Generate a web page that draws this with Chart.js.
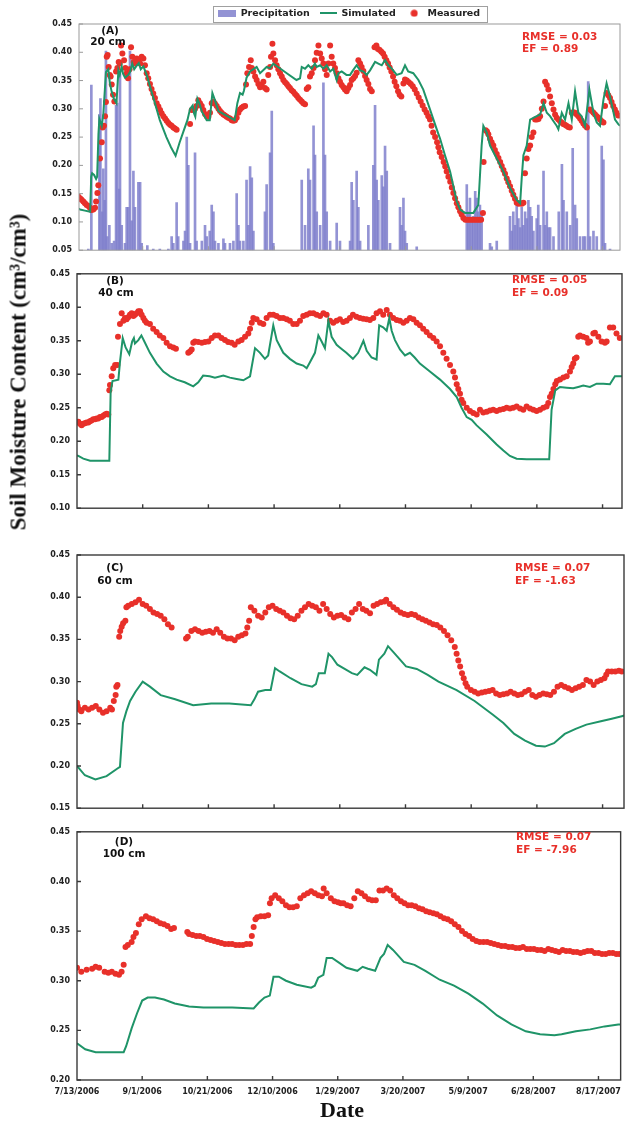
<!DOCTYPE html>
<html>
<head>
<meta charset="utf-8">
<script src="https://cdn.jsdelivr.net/npm/chart.js@4.4.1/dist/chart.umd.min.js"></script>
<style>
  html, body { margin: 0; padding: 0; background: #fff; }
  #wrap { position: relative; width: 628px; height: 1125px; overflow: hidden; background: #fff; }
  canvas { position: absolute; left: 0; }
  .t { position: absolute; font-family: "DejaVu Sans", sans-serif; font-weight: bold; white-space: nowrap; line-height: 1; }
  .lab { color: #111; font-size: 10.5px; transform: translate(-50%, -50%); }
  .fit { color: #e8302a; font-size: 10.5px; transform: translateY(-50%); }
  .serif { font-family: "Liberation Serif", "Times New Roman", serif; font-weight: bold; color: #111; }
</style>
</head>
<body>
<div id="wrap">
  <canvas id="cA" width="665" height="262" style="top:0px"></canvas>
  <canvas id="cB" width="628" height="258" style="top:262px"></canvas>
  <canvas id="cC" width="628" height="280" style="top:540px"></canvas>
  <canvas id="cD" width="628" height="305" style="top:820px"></canvas>

  <div class="t lab" style="left:110px;top:30px">(A)</div>
  <div class="t lab" style="left:108px;top:41px">20 cm</div>
  <div class="t fit" style="left:522px;top:36px">RMSE = 0.03</div>
  <div class="t fit" style="left:522px;top:48px">EF = 0.89</div>

  <div class="t lab" style="left:115px;top:280px">(B)</div>
  <div class="t lab" style="left:116px;top:292px">40 cm</div>
  <div class="t fit" style="left:512px;top:279px">RMSE = 0.05</div>
  <div class="t fit" style="left:512px;top:292px">EF = 0.09</div>

  <div class="t lab" style="left:115px;top:567px">(C)</div>
  <div class="t lab" style="left:115px;top:580px">60 cm</div>
  <div class="t fit" style="left:515px;top:567px">RMSE = 0.07</div>
  <div class="t fit" style="left:515px;top:580px">EF = -1.63</div>

  <div class="t lab" style="left:124px;top:841px">(D)</div>
  <div class="t lab" style="left:124px;top:853px">100 cm</div>
  <div class="t fit" style="left:516px;top:836px">RMSE = 0.07</div>
  <div class="t fit" style="left:516px;top:849px">EF = -7.96</div>

  <div class="t serif" style="font-size:23px;left:18px;top:372px;transform:translate(-50%,-50%) rotate(-90deg)">Soil Moisture Content (cm³/cm³)</div>
  <div class="t serif" style="font-size:22px;left:342px;top:1110px;transform:translate(-50%,-50%)">Date</div>
</div>

<script>
// Day counts are measured from 7/13/2006.
const tickDays = [0, 50, 100, 150, 200, 250, 300, 350, 400];
const tickLabels = ['7/13/2006', '9/1/2006', '10/21/2006', '12/10/2006', '1/29/2007', '3/20/2007', '5/9/2007', '6/28/2007', '8/17/2007'];

// Daily precipitation at the site, [day, mm]
const precip = [
  [8.6,0.5],[10.9,73],[17,60],[17.8,67],[19.3,17],[20,36],[21,22],[22,88],[23,6],[24.6,11],
  [26.4,3],[28.2,4],[29.7,64],[30.7,65],[32,27],[32.7,78],[34,11],[36.5,3],[37.8,19],[39,19],
  [40.3,88],[41.6,13],[42.9,35],[44.1,19],[46.7,30],[48,30],[49.2,3],[53.5,2],[58,0.5],[63,0.5],
  [69.5,0.5],[72,6],[73.3,3],[75.8,21],[77,6],[81,4],[82.2,8.5],[83.5,50],[84.7,37.5],[86,3],
  [89.8,43],[91,4],[95,4],[97.4,11],[98.7,6],[101,8.5],[102.5,20],[103.8,17],[105,4],[107.6,3],
  [111.4,5],[112.6,3],[116.4,3],[119,4],[121.5,25],[122.8,11],[124,4],[126.6,4],[129,31],[130.4,11],
  [131.7,37],[133,32],[134.2,8.5],[143,17],[144.3,29],[146.9,43],[148.2,61.5],[149.4,3],[171,31],[173.5,11],
  [176,36],[177.3,31],[180,55],[181.1,42],[182.4,17],[185,11],[187.5,74],[188.7,42],[190,17],[192.6,4],
  [197.6,12],[200.1,4],[207.8,4],[209,30],[210.3,22],[212.8,35],[214.1,19],[215.4,4],[221.7,11],[225.5,37.5],
  [226.8,64],[228,31],[229.3,22],[231.9,33],[233.1,28],[234.4,46],[235.7,35],[238.2,3],[245.8,19],[247,11],
  [248.4,23],[249.6,8.5],[250.9,3],[258.5,1.5],[296.6,29],[297.8,17],[299,23],[300.4,14],[301.6,15],[303,26],
  [304.1,23],[305.4,17],[306.6,20],[307.9,17],[314.3,3],[315.6,1.5],[319.4,4],[329.5,15],[330.8,8.5],[332,17],
  [333.3,11],[334.6,20],[335.9,14],[337.2,10],[338.4,19],[339.7,11],[341,17],[342.2,14],[343.5,22],[344.8,19],
  [346,15],[347.3,8.5],[349.8,14],[351,20],[352.4,11],[355,35],[356.2,11],[357.5,17],[358.7,10],[360,10],
  [362.6,6],[366.6,17],[369,38],[370.2,22],[372.7,17],[375.3,11],[377.2,45],[379,20],[380.3,14],[382.8,6],
  [385.3,6],[386.6,6],[389,74.5],[390.4,6],[393,8.5],[395.5,6],[399.3,46],[400.6,40],[401.8,3],[405.6,0.5]
];

// 20 cm depth, [day, cm3/cm3]
const sim20 = [
  [0,0.125],[2.3,0.122],[6,0.12],[10,0.118],[10.8,0.18],[11.5,0.186],[13,0.183],[14.5,0.176],[15.3,0.18],[16.3,0.255],
  [17,0.282],[18.8,0.27],[20,0.29],[22,0.365],[23.8,0.37],[25,0.345],[26.4,0.33],[28,0.318],[30,0.31],[31.5,0.368],
  [32.5,0.36],[34,0.375],[35,0.362],[36.5,0.355],[38,0.358],[39,0.36],[40.5,0.366],[42,0.38],[43.5,0.37],[45,0.375],
  [47,0.381],[48.5,0.37],[50.5,0.375],[53,0.36],[55.5,0.34],[58,0.32],[60.5,0.3],[63,0.28],[65.5,0.265],[68,0.25],
  [71.5,0.232],[75,0.217],[78,0.24],[81,0.26],[84,0.28],[86,0.3],[88,0.306],[89,0.292],[90,0.286],[91.6,0.318],
  [93,0.31],[95,0.295],[98.7,0.28],[101,0.28],[103,0.328],[105,0.315],[107.6,0.296],[112,0.29],[116,0.285],[120,0.28],
  [122,0.31],[124,0.328],[126,0.325],[127,0.332],[129,0.355],[131.7,0.366],[136.7,0.374],[139.3,0.363],[144.3,0.374],[146.9,0.372],
  [149.4,0.38],[153,0.374],[159.6,0.363],[167,0.351],[169.7,0.354],[171,0.374],[173.5,0.371],[176,0.377],[178.6,0.371],[181,0.38],
  [182.4,0.374],[185,0.377],[187.5,0.371],[190,0.377],[192.6,0.366],[195,0.371],[197.6,0.351],[198.9,0.363],[201.4,0.366],[205,0.36],
  [207.8,0.36],[210,0.368],[212.8,0.377],[215.4,0.368],[218,0.366],[220.4,0.36],[223,0.368],[226.8,0.383],[229.3,0.38],[231.9,0.377],
  [234.4,0.386],[237,0.377],[239.5,0.371],[243.3,0.36],[247,0.363],[249.6,0.377],[252,0.366],[255.9,0.363],[259.8,0.351],[263.5,0.334],
  [268.6,0.299],[273.7,0.264],[276.3,0.247],[280,0.218],[283.9,0.189],[289,0.136],[291.5,0.122],[295.3,0.116],[301.6,0.116],[305.4,0.13],
  [307.9,0.235],[309.2,0.27],[311.8,0.258],[314.3,0.235],[319.4,0.212],[324.5,0.189],[329.5,0.16],[334.6,0.139],[337.2,0.133],[338.4,0.177],
  [339.7,0.218],[342.2,0.235],[344.8,0.281],[347.3,0.284],[349.8,0.287],[352.4,0.29],[355,0.31],[357.5,0.293],[360,0.287],[362.6,0.278],
  [365,0.27],[366.3,0.264],[368.9,0.293],[371.4,0.281],[374,0.31],[376.5,0.281],[379,0.331],[381.5,0.293],[384,0.287],[386.6,0.27],
  [389.9,0.334],[393,0.293],[395.5,0.276],[398,0.27],[400.6,0.316],[403,0.345],[405.6,0.322],[409.4,0.281],[411.9,0.273],[413.2,0.27]
];
const obs20 = [
  [0,0.146],[1,0.145],[2.3,0.142],[3.5,0.139],[4.8,0.136],[6,0.133],[7.3,0.13],[8.6,0.128],[9.8,0.125],[11,0.121],
  [12.4,0.122],[13.7,0.125],[14.5,0.136],[15.5,0.151],[16.2,0.165],[17.5,0.212],[18.8,0.241],[19.5,0.267],[20.5,0.27],[21.3,0.287],
  [22,0.312],[22.6,0.392],[23.3,0.395],[24.1,0.374],[24.9,0.36],[25.6,0.357],[26.4,0.343],[27.4,0.325],[28.4,0.313],[29.7,0.366],
  [30.7,0.372],[31.7,0.383],[32.5,0.38],[33.5,0.412],[34.5,0.398],[35.8,0.386],[36.8,0.372],[37.8,0.363],[38.8,0.354],[40,0.37],
  [41.1,0.409],[42.1,0.392],[43.1,0.383],[44.1,0.38],[45.4,0.389],[46.7,0.386],[48,0.38],[49.2,0.392],[50.5,0.389],[51.7,0.377],
  [53,0.363],[54.2,0.354],[55.5,0.344],[56.7,0.335],[58,0.327],[59.3,0.319],[60.6,0.31],[61.9,0.304],[63.2,0.298],[64.4,0.292],
  [65.7,0.287],[67,0.283],[68.2,0.279],[69.5,0.275],[70.8,0.272],[72,0.27],[73.3,0.267],[74.5,0.265],[75.8,0.263],
  [86,0.273],[87.3,0.298],[88.5,0.299],[89.8,0.3],[91,0.305],[92.3,0.315],[93.6,0.31],[94.9,0.305],[96.1,0.298],[97.4,0.291],
  [98.7,0.287],[100,0.286],[101.2,0.293],[102.5,0.31],[103.8,0.313],[105,0.309],[106.3,0.305],[107.6,0.3],[108.8,0.296],[110,0.293],
  [111.4,0.29],[112.6,0.288],[113.9,0.286],[115.1,0.284],[116.4,0.283],[117.7,0.28],[119,0.279],[120.2,0.28],[121.5,0.284],[122.8,0.293],
  [124,0.299],[125.3,0.302],[126.6,0.304],[127.9,0.305],[128.6,0.343],[129.6,0.363],[130.9,0.374],[132.2,0.386],[133,0.372],[134.2,0.366],
  [135.5,0.357],[136.7,0.351],[138,0.344],[139.3,0.338],[140.5,0.342],[141.8,0.348],[143,0.337],[144.3,0.334],[145.5,0.36],[146.9,0.374],
  [147.6,0.392],[148.7,0.415],[149.4,0.398],[150.7,0.386],[151.9,0.377],[153.2,0.37],[154.5,0.363],[155.8,0.357],[157,0.351],[158.3,0.347],
  [159.6,0.344],[160.8,0.34],[162,0.337],[163.3,0.333],[164.6,0.33],[165.9,0.326],[167.2,0.323],[168.4,0.319],[169.7,0.316],[171,0.313],
  [172.2,0.31],[173.5,0.308],[174.8,0.335],[176,0.338],[177.3,0.357],[178.6,0.363],[180,0.372],[181.1,0.386],[182.4,0.399],[183.7,0.412],
  [185,0.398],[186.2,0.389],[187.5,0.38],[188.7,0.37],[190,0.36],[191.3,0.38],[192.6,0.412],[193.8,0.392],[195,0.38],[196.3,0.372],
  [197.6,0.363],[198.9,0.354],[200.1,0.348],[201.4,0.342],[202.7,0.338],[203.9,0.334],[205.2,0.331],[206.5,0.337],[207.8,0.342],[209,0.351],
  [210.3,0.354],[211.6,0.358],[212.8,0.364],[214.1,0.386],[215.4,0.38],[216.6,0.374],[217.9,0.367],[219.2,0.358],[220.4,0.351],[221.7,0.344],
  [223,0.335],[224.3,0.331],[226.4,0.409],[227.8,0.412],[229,0.406],[230.3,0.404],[231.6,0.401],[232.9,0.398],[234.1,0.392],[235.4,0.386],
  [236.7,0.38],[237.9,0.373],[239.2,0.366],[240.5,0.357],[241.7,0.348],[243,0.34],[244.3,0.331],[245.5,0.325],[246.8,0.322],[248.4,0.345],
  [249.6,0.352],[251,0.35],[252.5,0.347],[254,0.344],[255.5,0.34],[257,0.334],[258.5,0.327],[260,0.32],[261.5,0.313],[263,0.306],
  [264.5,0.299],[266,0.293],[267.3,0.287],[268.6,0.281],[269.8,0.27],[271,0.258],[272.5,0.25],[274,0.241],[275,0.232],[276,0.223],
  [277.5,0.215],[279,0.206],[280.2,0.198],[281.3,0.189],[282.6,0.18],[284,0.171],[285.2,0.161],[286.4,0.151],[287.7,0.142],[289,0.133],
  [290.2,0.126],[291.5,0.119],[292.7,0.113],[294,0.107],[295.5,0.104],[297,0.104],[298.5,0.104],[300,0.104],[301.5,0.104],[303,0.104],
  [304.5,0.104],[306,0.104],[307.5,0.104],[308.9,0.116],[309.4,0.206],[311,0.262],[312,0.26],[313,0.255],[314.3,0.247],[315.5,0.241],
  [316.8,0.235],[318,0.227],[319.4,0.22],[320.7,0.213],[322,0.206],[323.2,0.199],[324.5,0.192],[325.7,0.185],[327,0.177],[328.2,0.17],
  [329.5,0.163],[330.8,0.155],[332,0.148],[333.3,0.141],[334.6,0.134],[336,0.132],[337.2,0.133],[338.5,0.132],[339.7,0.134],[340.9,0.186],
  [342.2,0.212],[343.5,0.229],[344.8,0.235],[346,0.25],[347.3,0.258],[348.6,0.281],[350,0.281],[351.2,0.282],[352.4,0.287],[353.7,0.3],
  [355,0.313],[356.2,0.348],[357.5,0.342],[358.7,0.334],[360,0.322],[361.3,0.31],[362.6,0.299],[363.8,0.29],[365,0.284],[366.3,0.281],
  [367.6,0.278],[368.8,0.276],[370,0.273],[371.3,0.272],[372.5,0.27],[373.8,0.268],[375,0.267],[376.5,0.293],[377.7,0.294],[379,0.293],
  [380.3,0.29],[381.5,0.287],[382.8,0.283],[384,0.279],[385.3,0.274],[386.6,0.27],[388,0.267],[390.4,0.299],[391.7,0.296],[393,0.293],
  [394.2,0.29],[395.5,0.287],[396.8,0.284],[398,0.281],[399.3,0.278],[400.6,0.276],[401.8,0.305],[403,0.328],[404.3,0.324],[405.6,0.319],
  [406.8,0.312],[408,0.305],[409.3,0.299],[410.5,0.293],[411.8,0.288]
];

// 40 cm depth
const sim40 = [
  [0,0.179],[1,0.178],[4.8,0.174],[10,0.171],[24.6,0.171],[25.6,0.273],[27,0.29],[31.5,0.292],[32.7,0.318],[34.8,0.354],
  [37,0.34],[39.8,0.33],[42,0.349],[43.3,0.354],[44.1,0.346],[46.7,0.351],[49,0.358],[51,0.35],[55.5,0.332],[60.6,0.316],
  [65.7,0.304],[70.8,0.297],[75.8,0.292],[82,0.288],[88.5,0.282],[92.3,0.288],[96,0.298],[101,0.297],[105,0.295],[111.4,0.298],
  [116.4,0.295],[121.5,0.293],[126.6,0.291],[131.7,0.297],[135.5,0.339],[139.3,0.332],[143,0.323],[145.5,0.328],[149.4,0.373],[152,0.351],
  [157,0.332],[162,0.323],[167.2,0.316],[172.2,0.313],[174.8,0.309],[177.3,0.318],[181.1,0.332],[183.7,0.358],[186.2,0.349],[188.7,0.339],
  [191.3,0.38],[193.8,0.356],[197.6,0.344],[200,0.34],[205,0.332],[210,0.323],[214,0.332],[218,0.35],[220.5,0.335],[224.2,0.325],
  [228,0.322],[230,0.373],[233,0.37],[235.7,0.365],[237.7,0.384],[239.5,0.365],[242,0.351],[245.8,0.337],[249.6,0.328],[253.4,0.332],
  [257,0.325],[261,0.316],[268.6,0.304],[276.3,0.292],[283.9,0.278],[289,0.266],[292.7,0.25],[296.6,0.236],[300.4,0.232],[304,0.224],
  [311.8,0.21],[319.4,0.195],[324.5,0.186],[329.5,0.178],[334.6,0.174],[342.2,0.173],[359.4,0.173],[361.2,0.247],[364,0.276],[367.6,0.281],
  [372.7,0.28],[377.7,0.279],[381.5,0.281],[385.3,0.283],[390.4,0.281],[395.5,0.286],[400.6,0.286],[405.6,0.285],[409.4,0.297],[415,0.297]
];
const obs40 = [
  [1,0.229],[2.2,0.226],[3.5,0.224],[4.8,0.226],[6,0.227],[7.3,0.228],[8.6,0.228],[9.8,0.23],[11,0.231],[12.4,0.233],
  [13.7,0.233],[15,0.234],[16.2,0.234],[17.5,0.236],[18.8,0.236],[20,0.238],[21.3,0.24],[22.6,0.241],[23.8,0.24],[24.6,0.276],
  [25.1,0.284],[26.4,0.297],[27.6,0.309],[29,0.314],[30.7,0.314],[31.2,0.356],[32.7,0.375],[34,0.391],[35.3,0.38],[36.5,0.384],
  [37.8,0.382],[39,0.385],[40.3,0.389],[41.6,0.391],[42.9,0.387],[44.1,0.389],[45.4,0.391],[46.7,0.394],[48,0.394],[49.2,0.389],
  [50.5,0.384],[51.7,0.38],[53,0.377],[55.5,0.375],[58,0.368],[60.6,0.363],[63,0.358],[65.7,0.354],[68.2,0.347],[70.8,0.342],
  [73.3,0.34],[75.3,0.338],
  [84.7,0.332],[86,0.334],[87.3,0.337],[88.5,0.347],[89.8,0.349],[92.3,0.348],[95,0.347],[97.4,0.348],[100,0.349],[102.5,0.354],
  [105,0.358],[107.6,0.358],[110,0.354],[112.6,0.351],[115,0.348],[117.7,0.347],[120,0.344],[122.8,0.349],[125.3,0.351],[127.9,0.356],
  [130.4,0.361],[131.7,0.368],[133,0.377],[134.2,0.384],[136.7,0.382],[139.3,0.377],[141.8,0.375],[144.3,0.384],[146.9,0.389],[149.4,0.389],
  [151.9,0.387],[154.5,0.384],[157,0.384],[159.6,0.382],[162,0.38],[164.6,0.375],[167.2,0.375],[169.7,0.38],[172.2,0.387],[174.8,0.389],
  [177.3,0.391],[179.9,0.391],[182.4,0.389],[185,0.387],[187.5,0.391],[190,0.389],[192.6,0.38],[195.1,0.377],[197.6,0.38],[200.1,0.382],
  [202.6,0.378],[205.2,0.38],[207.7,0.384],[210,0.389],[212.7,0.386],[215.3,0.384],[217.8,0.383],[220.4,0.382],[222.9,0.381],[225.5,0.384],
  [228,0.391],[230.6,0.394],[233.1,0.389],[235.7,0.396],[238.2,0.389],[240.7,0.384],[243.3,0.381],[245.8,0.38],[248.4,0.377],[250.9,0.38],
  [253.4,0.384],[256,0.382],[258.5,0.377],[261,0.373],[263.5,0.368],[266.1,0.363],[268.6,0.358],[271.2,0.354],[273.7,0.349],[276.3,0.342],
  [278.8,0.332],[281.3,0.323],[283.9,0.314],[286.4,0.304],[287.7,0.295],[289,0.285],[290.2,0.278],[291.5,0.271],[292.7,0.262],[294,0.257],
  [296.6,0.25],[299.1,0.245],[301.6,0.242],[304.2,0.24],[306.7,0.247],[309.2,0.243],[311.8,0.244],[314.3,0.246],[316.8,0.247],[319.4,0.245],
  [321.9,0.247],[324.5,0.248],[327,0.25],[329.5,0.249],[332,0.25],[334.6,0.252],[337.2,0.249],[339.7,0.247],[342.2,0.252],[344.8,0.249],
  [347.3,0.247],[349.8,0.245],[352.4,0.247],[354.9,0.25],[357.4,0.252],[358.7,0.257],[360,0.266],[361.3,0.271],[362.6,0.278],[364,0.285],
  [365.2,0.29],[367.6,0.292],[370.2,0.295],[372.7,0.297],[375.2,0.304],[376.5,0.311],[377.7,0.316],[378.9,0.323],[380.2,0.325],[381.5,0.356],
  [382.8,0.358],[385.3,0.356],[387.8,0.354],[389,0.347],[390.4,0.349],[393,0.361],[394.2,0.362],[396.8,0.356],[399.3,0.349],[401.8,0.347],
  [403.1,0.349],[405.6,0.37],[408.1,0.37],[410.6,0.361],[413.1,0.354]
];

// 60 cm depth
const sim60 = [
  [0,0.2],[6,0.189],[14,0.184],[22.5,0.188],[30.8,0.197],[32.7,0.199],[35,0.251],[37.6,0.265],[40.4,0.277],[44.5,0.288],
  [50,0.3],[55.5,0.294],[63.7,0.284],[74.7,0.279],[88.4,0.272],[102.1,0.274],[115.9,0.274],[132.3,0.272],[135,0.279],[137.8,0.288],
  [143.3,0.29],[147.4,0.29],[150.7,0.316],[154.3,0.312],[162.5,0.304],[170.8,0.297],[179,0.294],[181.8,0.297],[184,0.31],[188.6,0.31],
  [191.4,0.333],[194.1,0.329],[198.2,0.32],[203.7,0.315],[209.2,0.31],[213.3,0.308],[218.8,0.317],[222.9,0.314],[227.9,0.308],[229.8,0.326],
  [233.9,0.333],[236.7,0.342],[240.8,0.335],[250.4,0.318],[258.6,0.315],[266.9,0.308],[275.1,0.3],[288.9,0.29],[302.6,0.277],[316.3,0.261],
  [324.5,0.251],[332.8,0.238],[341,0.23],[349.3,0.224],[356.1,0.223],[363,0.227],[371.2,0.238],[379.5,0.244],[387.7,0.249],[398.7,0.253],
  [407,0.256],[414.6,0.259],[417,0.26]
];
const obs60 = [
  [0,0.275],[0.5,0.271],[1.9,0.267],[3.3,0.265],[6,0.269],[8.8,0.267],[11.5,0.269],[14.3,0.271],[17,0.267],[19.8,0.263],
  [22.5,0.265],[25.3,0.269],[26.6,0.267],[28,0.277],[29.4,0.284],[29.9,0.294],[30.8,0.296],[32.1,0.353],[32.9,0.36],[34,0.365],
  [35.1,0.369],[36.8,0.372],[37.6,0.388],[39,0.39],[41.7,0.392],[44.5,0.394],[47.2,0.397],[50,0.392],[52.7,0.39],[55.5,0.386],
  [58.2,0.382],[61,0.38],[63.7,0.378],[66.5,0.374],[69.2,0.368],[72,0.364],
  [83,0.351],[84.3,0.353],[87,0.36],[89.8,0.362],[92.5,0.36],[95.3,0.358],[98,0.359],[100.8,0.36],[103.5,0.358],[106.3,0.362],
  [109,0.358],[111.8,0.353],[114.5,0.351],[117.2,0.351],[120,0.349],[122.7,0.353],[125.5,0.355],[128.2,0.357],[129.6,0.364],[131,0.372],
  [132.3,0.388],[135,0.384],[137.8,0.378],[140.6,0.376],[143.3,0.382],[146,0.388],[148.8,0.39],[151.6,0.386],[154.3,0.384],[157,0.382],
  [159.8,0.378],[162.5,0.375],[165.3,0.374],[168,0.378],[170.8,0.384],[173.5,0.388],[176.3,0.392],[179,0.39],[181.8,0.388],[184.5,0.384],
  [187.3,0.392],[190,0.386],[192.7,0.38],[195.5,0.376],[198.2,0.378],[201,0.379],[203.7,0.376],[206.5,0.374],[209.2,0.382],[212,0.386],
  [214.7,0.392],[217.5,0.386],[220.2,0.384],[223,0.381],[225.7,0.39],[228.4,0.392],[231.2,0.394],[234,0.395],[235.3,0.397],[238,0.392],
  [240.8,0.388],[243.5,0.385],[246.3,0.382],[249,0.38],[251.8,0.379],[254.5,0.38],[257.3,0.379],[260,0.376],[262.8,0.374],[265.5,0.372],
  [268.3,0.37],[271,0.368],[273.8,0.367],[276.5,0.364],[279.3,0.36],[282,0.355],[284.8,0.349],[287.5,0.341],[288.9,0.333],[290.2,0.325],
  [291.6,0.318],[293,0.31],[294.3,0.304],[295.7,0.298],[297,0.294],[299.8,0.29],[302.6,0.288],[305.3,0.286],[308.1,0.287],[310.8,0.288],
  [313.6,0.289],[316.3,0.29],[319,0.286],[321.8,0.284],[324.5,0.285],[327.3,0.286],[330,0.288],[332.8,0.286],[335.5,0.284],[338.3,0.285],
  [341,0.288],[343.8,0.29],[346.5,0.284],[349.3,0.282],[352,0.284],[354.8,0.286],[357.5,0.285],[360.2,0.284],[363,0.288],[365.7,0.294],
  [368.5,0.296],[371.2,0.294],[374,0.292],[376.7,0.29],[379.5,0.292],[382.2,0.294],[385,0.296],[387.7,0.302],[390.5,0.3],[393.2,0.296],
  [396,0.3],[398.7,0.302],[401.4,0.304],[402.8,0.308],[404.2,0.312],[407,0.312],[409.7,0.312],[412.4,0.313],[414.6,0.312]
];

// 100 cm depth
const sim100 = [
  [0,0.237],[6.3,0.231],[14.3,0.228],[22.6,0.228],[35.8,0.228],[37.7,0.234],[41.9,0.252],[46,0.267],[50,0.28],[54.2,0.283],
  [59.8,0.283],[66.7,0.281],[75,0.277],[86,0.274],[97,0.273],[108,0.273],[119,0.273],[135.5,0.272],[139.6,0.278],[143.8,0.283],
  [147.9,0.285],[150.7,0.304],[154.8,0.304],[160.3,0.3],[168.6,0.296],[179.6,0.293],[182.4,0.295],[185,0.303],[189,0.306],[191.5,0.323],
  [195.7,0.323],[201.2,0.318],[206.7,0.313],[215,0.31],[219.1,0.314],[223.2,0.312],[228.7,0.31],[232.8,0.323],[235.5,0.327],[238.3,0.336],
  [242.4,0.331],[250.7,0.319],[258.9,0.316],[267.2,0.31],[278.2,0.301],[289.2,0.295],[300.2,0.287],[311.2,0.277],[322.2,0.265],[333.2,0.256],
  [344.2,0.249],[355.2,0.246],[366.2,0.245],[371.7,0.246],[382.7,0.249],[393.7,0.251],[404.7,0.254],[415.2,0.256],[417,0.256]
];
const obs100 = [
  [0,0.313],[3.3,0.309],[7.4,0.311],[11.6,0.312],[14.3,0.314],[17,0.313],[21.2,0.309],[24,0.308],[26.7,0.309],[29.5,0.307],
  [32.2,0.306],[34.2,0.309],[35.8,0.316],[37.2,0.334],[39,0.336],[41.9,0.339],[43.3,0.344],[45.2,0.348],[47.4,0.357],[49.6,0.362],
  [52.9,0.365],[55.6,0.363],[58.4,0.362],[61.2,0.36],[63.9,0.358],[66.7,0.357],[69.4,0.355],[72.2,0.352],[74.4,0.353],
  [84.6,0.349],[85.9,0.347],[88.7,0.346],[91.5,0.345],[94.2,0.345],[97,0.344],[99.7,0.342],[102.5,0.341],[105.2,0.34],[108,0.339],
  [110.7,0.338],[113.5,0.337],[116.3,0.337],[119,0.337],[121.8,0.336],[124.5,0.336],[127.3,0.336],[130,0.337],[132.8,0.337],[134.1,0.345],
  [135.5,0.354],[136.9,0.362],[138.2,0.364],[141,0.365],[143.8,0.365],[146.6,0.366],[148,0.378],[149.3,0.383],[152,0.386],[154.8,0.383],
  [157.5,0.38],[160.3,0.376],[163,0.374],[165.8,0.374],[168.6,0.375],[171.3,0.383],[174.1,0.386],[176.9,0.388],[179.6,0.39],[182.4,0.388],
  [185.1,0.386],[187.9,0.385],[189.2,0.393],[191.5,0.388],[194.7,0.383],[197.5,0.38],[200.2,0.379],[202.3,0.378],[204.4,0.378],[207.2,0.376],
  [209.9,0.375],[212.7,0.383],[215.4,0.39],[218.2,0.388],[220.9,0.385],[223.7,0.382],[226.4,0.381],[229.2,0.381],[232,0.391],[234.7,0.391],
  [237.5,0.393],[240.2,0.391],[243,0.386],[245.7,0.383],[248.5,0.38],[251.2,0.378],[254,0.376],[256.7,0.376],[259.5,0.375],[262.3,0.373],
  [265,0.372],[267.8,0.37],[270.5,0.369],[273.3,0.368],[276,0.367],[278.8,0.365],[281.5,0.363],[284.3,0.362],[287,0.36],[289.8,0.357],
  [292.6,0.354],[295.3,0.35],[298,0.347],[300.8,0.345],[303.5,0.342],[306.3,0.34],[309,0.339],[311.8,0.339],[314.6,0.339],[317.3,0.338],
  [320,0.337],[322.9,0.336],[325.6,0.335],[328.4,0.335],[331.1,0.334],[333.9,0.334],[336.6,0.333],[339.4,0.333],[342.1,0.334],[345,0.332],
  [347.7,0.332],[350.5,0.332],[353.2,0.331],[356,0.331],[358.7,0.33],[361.5,0.332],[364.2,0.331],[367,0.33],[369.7,0.329],[372.5,0.331],
  [375.2,0.33],[378,0.33],[380.7,0.329],[383.5,0.329],[386.2,0.328],[389,0.329],[391.7,0.33],[394.5,0.33],[397.2,0.328],[400,0.328],
  [402.7,0.327],[405.5,0.327],[408.2,0.328],[411,0.328],[413.7,0.327],[416,0.327]
];

const GREEN = '#1f9468';
const RED = '#e8302a';
const BAR = 'rgba(128,128,204,0.85)';

const xy = arr => arr.map(p => ({ x: p[0], y: p[1] }));

Chart.defaults.font.family = '"DejaVu Sans", sans-serif';
Chart.defaults.color = '#222';

// frame around the plotting area plus short inward tick marks
const framePlugin = {
  id: 'frame',
  afterDatasetsDraw(chart, args, o) {
    const { ctx, chartArea: a, scales } = chart;
    ctx.save();
    ctx.strokeStyle = o.color;
    ctx.lineWidth = o.width;
    ctx.strokeRect(a.left, a.top, a.right - a.left, a.bottom - a.top);
    ctx.beginPath();
    scales.y.ticks.forEach(t => {
      const py = scales.y.getPixelForValue(t.value);
      ctx.moveTo(a.left, py); ctx.lineTo(a.left + 4, py);
    });
    tickDays.forEach(d => {
      if (d <= scales.x.min || d >= scales.x.max) return;
      const px = scales.x.getPixelForValue(d);
      ctx.moveTo(px, a.bottom); ctx.lineTo(px, a.bottom - 4);
    });
    ctx.stroke();
    ctx.restore();
  }
};

// thin border around the legend entries
const legendBoxPlugin = {
  id: 'legendBox',
  afterDraw(chart) {
    const lg = chart.legend;
    if (!lg || !lg.options.display || !lg.legendHitBoxes || !lg.legendHitBoxes.length) return;
    const hb = lg.legendHitBoxes;
    const l = Math.min(...hb.map(h => h.left)) - 6;
    const r = Math.max(...hb.map(h => h.left + h.width)) + 7;
    const t = Math.min(...hb.map(h => h.top)) - 3;
    const b = Math.max(...hb.map(h => h.top + h.height)) + 3;
    const ctx = chart.ctx;
    ctx.save();
    ctx.strokeStyle = '#a0a0a0';
    ctx.lineWidth = 1;
    ctx.strokeRect(Math.round(l) + 0.5, Math.round(t) + 0.5, Math.round(r - l), Math.round(b - t));
    ctx.restore();
  }
};

function swatch(w, h, draw) {
  const c = document.createElement('canvas');
  c.width = w; c.height = h;
  draw(c.getContext('2d'));
  return c;
}
const swatches = [
  swatch(18, 7, g => { g.fillStyle = BAR; g.fillRect(0, 0, 18, 7); }),
  swatch(17, 2, g => { g.fillStyle = GREEN; g.fillRect(0, 0, 17, 2); }),
  swatch(8, 8, g => { g.fillStyle = RED; g.beginPath(); g.arc(4, 4, 3.5, 0, Math.PI * 2); g.fill(); })
];

function makePanel(id, p) {
  const datasets = [];
  if (p.rain) {
    datasets.push({ type: 'bar', label: 'Precipitation', data: xy(p.rain), yAxisID: 'yP',
      backgroundColor: BAR, borderWidth: 0, barThickness: 2, order: 3 });
  }
  datasets.push({ type: 'line', label: 'Simulated', data: xy(p.sim), yAxisID: 'y',
    borderColor: GREEN, backgroundColor: GREEN, borderWidth: 2, pointRadius: 0, tension: 0, order: 1 });
  datasets.push({ type: 'line', label: 'Measured', data: xy(p.obs), yAxisID: 'y', showLine: false,
    pointRadius: 3, pointBackgroundColor: RED, pointBorderWidth: 0, borderColor: RED, backgroundColor: RED, order: 2 });

  const scales = {
    x: {
      type: 'linear', min: p.xmin, max: p.xmax, offset: false,
      afterFit: s => { s.height = p.xH; },
      afterBuildTicks: s => { s.ticks = tickDays.map(v => ({ value: v })); },
      grid: { display: false, drawTicks: false, offset: false }, border: { display: false },
      ticks: { display: !!p.xLabels, autoSkip: false, maxRotation: 0, padding: 7, color: '#222',
        font: { size: 8, weight: 'bold' }, callback: v => tickLabels[tickDays.indexOf(v)] ?? '' }
    },
    y: {
      type: 'linear', position: 'left', min: p.ymin, max: p.ymax,
      afterFit: s => { s.width = p.yW; },
      grid: { display: false, drawTicks: false }, border: { display: false },
      ticks: { stepSize: 0.05, padding: 7, color: '#222', font: { size: 8, weight: 'bold' },
        callback: v => v.toFixed(2) }
    }
  };
  if (p.rain) {
    // precipitation scale: kept unlabeled on the right so the plot stays centred under the legend
    scales.yP = {
      type: 'linear', position: 'right', display: true, min: 0, max: 100,
      afterFit: s => { s.width = p.yW; },
      grid: { display: false, drawTicks: false }, border: { display: false },
      ticks: { display: false }
    };
  }

  return new Chart(document.getElementById(id), {
    type: 'line',
    data: { datasets },
    options: {
      responsive: false, animation: false, devicePixelRatio: 1, events: [],
      layout: { autoPadding: false, padding: p.pad },
      scales,
      plugins: {
        tooltip: { enabled: false },
        frame: { color: p.frameColor, width: p.frameWidth },
        legend: p.legend ? {
          display: true, position: 'top', align: 'center', maxHeight: 25.5,
          labels: {
            usePointStyle: true, pointStyleWidth: 17, boxHeight: 9, padding: 10, color: '#222',
            font: { size: 9.5, weight: 'bold' },
            sort: (a, b) => a.datasetIndex - b.datasetIndex,
            generateLabels: chart => {
              const items = Chart.defaults.plugins.legend.labels.generateLabels(chart);
              items.forEach(it => { it.pointStyle = swatches[it.datasetIndex]; it.fontColor = '#222'; });
              return items;
            }
          }
        } : { display: false }
      }
    },
    plugins: [framePlugin, legendBoxPlugin]
  });
}

makePanel('cA', { rain: precip, sim: sim20, obs: obs20, xmin: 1.5, xmax: 413.2, ymin: 0.05, ymax: 0.45,
  yW: 37, xH: 0, pad: { top: -1.5, left: 42, right: 8, bottom: 7 }, legend: true,
  frameColor: '#9a9a9a', frameWidth: 1 });
makePanel('cB', { sim: sim40, obs: obs40, xmin: 0, xmax: 414.8, ymin: 0.10, ymax: 0.45,
  yW: 67, xH: 0, pad: { top: 5, left: 10, right: 6, bottom: 6 }, frameColor: '#3a3a3a', frameWidth: 1.4 });
makePanel('cC', { sim: sim60, obs: obs60, xmin: 0, xmax: 416.3, ymin: 0.15, ymax: 0.45,
  yW: 67, xH: 0, pad: { top: 15, left: 10, right: 4, bottom: 9 }, frameColor: '#3a3a3a', frameWidth: 1.4 });
makePanel('cD', { sim: sim100, obs: obs100, xmin: 0, xmax: 417, ymin: 0.20, ymax: 0.45,
  yW: 67, xH: 45, pad: { top: 6, left: 10, right: 3, bottom: 0 }, xLabels: true,
  frameColor: '#3a3a3a', frameWidth: 1.4 });
</script>
</body>
</html>
